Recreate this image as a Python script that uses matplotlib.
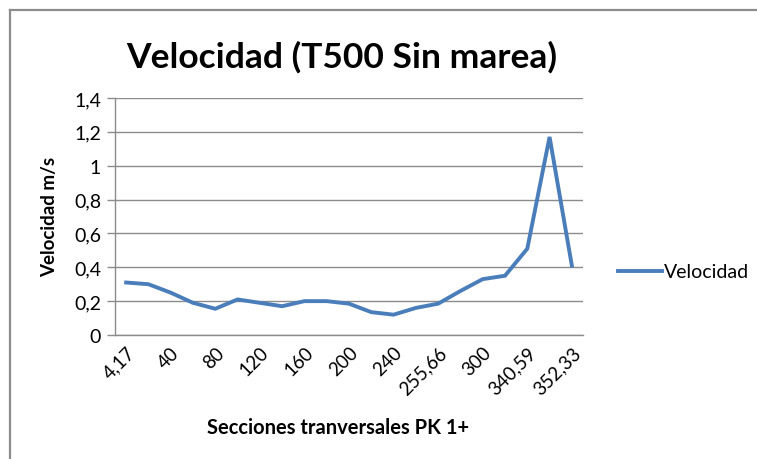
import matplotlib
matplotlib.use("Agg")
import matplotlib.pyplot as plt
from matplotlib.lines import Line2D

plt.rcParams['font.family'] = ['Lato', 'DejaVu Sans']

# Data
secciones = ["4,17", "20", "40", "60", "80", "100", "120", "140", "160", "180",
             "200", "220", "240", "250", "255,66", "280", "300", "320", "340,59",
             "346", "352,33"]
velocidad = [0.31, 0.30, 0.25, 0.19, 0.155, 0.21, 0.19, 0.17, 0.20, 0.20,
             0.185, 0.135, 0.12, 0.16, 0.185, 0.26, 0.33, 0.35, 0.51,
             1.17, 0.41]
yticks = [0, 0.2, 0.4, 0.6, 0.8, 1.0, 1.2, 1.4]
ytick_labels = ["0", "0,2", "0,4", "0,6", "0,8", "1", "1,2", "1,4"]

W, H = 757, 460
fig = plt.figure(figsize=(W / 100, H / 100), dpi=100)
ax = fig.add_axes([115 / W, 1 - 336 / H, (583 - 115) / W, (336 - 99) / H])

x = list(range(len(secciones)))
line, = ax.plot(x, velocidad, color='#4A7EBB', lw=2.8, solid_joinstyle='miter',
                label='Velocidad')

ax.set_xlim(-0.5, len(secciones) - 0.5)
ax.set_ylim(0, 1.4)
ax.set_yticks(yticks)
ax.set_yticklabels(ytick_labels, fontsize=14)
ax.set_xticks(x[::2])
ax.set_xticklabels(secciones[::2], rotation=45, ha='right', va='top',
                   rotation_mode='anchor', fontsize=13.5)
ax.tick_params(axis='x', length=0, pad=6)
ax.tick_params(axis='y', length=6, color='#8C8C8C', width=1, pad=4)

ax.grid(axis='y', color='#8C8C8C', lw=1)
ax.set_axisbelow(True)
for s in ['top', 'right']:
    ax.spines[s].set_visible(False)
for s in ['left', 'bottom']:
    ax.spines[s].set_color('#8C8C8C')
    ax.spines[s].set_linewidth(1)

fig.text(50 / W, 1 - 217 / H, "Velocidad m/s", fontsize=13.5, fontweight='bold',
         rotation=90, ha='center', va='center')
fig.text(338 / W, 1 - 428 / H, "Secciones tranversales PK 1+", fontsize=14.5,
         fontweight='bold', ha='center', va='center')
fig.text(342 / W, 1 - 57 / H, "Velocidad (T500 Sin marea)", fontsize=25.5,
         fontweight='bold', ha='center', va='center')

# Legend
fig.add_artist(Line2D([618 / W, 662 / W], [1 - 272 / H, 1 - 272 / H],
                      color='#4A7EBB', lw=2.8, transform=fig.transFigure))
fig.text(664 / W, 1 - 272 / H, "Velocidad", fontsize=14, ha='left', va='center')

# Chart border (partial, as in the cropped reference)
fig.add_artist(Line2D([9.5 / W, 9.5 / W], [0, 1 - 11 / H], color='#8C8C8C',
                      lw=1.6, transform=fig.transFigure))
fig.add_artist(Line2D([9.5 / W, 1], [1 - 11 / H, 1 - 11 / H], color='#8C8C8C',
                      lw=1.6, transform=fig.transFigure))

fig.savefig("out.png", dpi=100)
